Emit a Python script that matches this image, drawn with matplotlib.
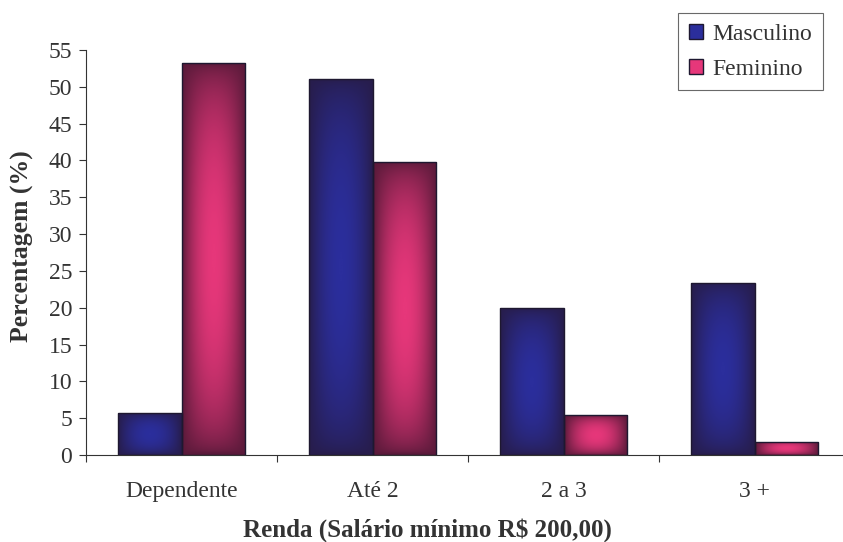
import matplotlib.pyplot as plt
import numpy as np
from matplotlib.colors import LinearSegmentedColormap
from matplotlib.patches import Patch

categorias = ["Dependente", "Até 2", "2 a 3", "3 +"]
masculino = [5.7, 51.1, 19.9, 23.4]
feminino = [53.3, 39.8, 5.4, 1.8]
y_ticks = list(range(0, 60, 5))

plt.rcParams['font.family'] = ['Liberation Serif', 'DejaVu Serif']

# cores: borda escura -> centro claro
cor_m = ("#271d4c", "#2b2e9c")
cor_f = ("#5a1a3a", "#e6377a")


def pinta_gradiente(ax, barra, cores):
    cmap = LinearSegmentedColormap.from_list("g", list(cores))
    x0, w = barra.get_x(), barra.get_width()
    y0, h = barra.get_y(), barra.get_height()
    u = np.linspace(-1, 1, 60)
    v = np.linspace(-1, 1, 120)
    U, V = np.meshgrid(u, v)
    t = (1 - U**2) ** 0.9 * (1 - V**2) ** 0.6
    im = ax.imshow(t, cmap=cmap, vmin=0, vmax=1, aspect='auto',
                   extent=(x0, x0 + w, y0, y0 + h), origin='lower',
                   interpolation='bilinear', zorder=2)
    im.set_clip_path(barra)


fig = plt.figure(figsize=(8.43, 5.42), dpi=100)
ax = fig.add_axes([86 / 843, 1 - 455 / 542, 764 / 843, 405 / 542])

x = np.arange(len(categorias))
larg = 0.335
barras_m = ax.bar(x - larg / 2, masculino, larg, facecolor='none',
                  edgecolor='#1e1830', linewidth=1.0, zorder=3)
barras_f = ax.bar(x + larg / 2, feminino, larg, facecolor='none',
                  edgecolor='#1e1830', linewidth=1.0, zorder=3)
for b in barras_m:
    pinta_gradiente(ax, b, cor_m)
for b in barras_f:
    pinta_gradiente(ax, b, cor_f)

ax.set_xlim(-0.5, len(categorias) - 0.5)
ax.set_ylim(0, 55)
ax.set_yticks(y_ticks)
ax.set_xticks(x)
ax.set_xticklabels(categorias)
ax.set_xticks(np.arange(-0.5, len(categorias)), minor=True)
ax.tick_params(axis='x', which='major', length=0, pad=19, labelsize=17,
               labelcolor='#333333')
ax.tick_params(axis='x', which='minor', length=5, width=0.8, color='#333333')
ax.tick_params(axis='y', length=5, width=0.8, color='#333333', pad=5,
               labelsize=17, labelcolor='#333333')

for s in ['top', 'right']:
    ax.spines[s].set_visible(False)
for s in ['left', 'bottom']:
    ax.spines[s].set_linewidth(0.8)
    ax.spines[s].set_color('#333333')

fig.text(22 / 843, 1 - 246 / 542, "Percentagem (%)", rotation=90,
         ha='center', va='center', fontsize=18.5, fontweight='bold',
         color='#333333')
fig.text(427 / 843, 1 - 530 / 542, "Renda (Salário mínimo R$ 200,00)",
         ha='center', va='center', fontsize=18, fontweight='bold',
         color='#333333')

handles = [Patch(facecolor=cor_m[1], edgecolor='#1e1830', label="Masculino"),
           Patch(facecolor=cor_f[1], edgecolor='#1e1830', label="Feminino")]
leg = fig.legend(handles=handles, loc='upper right',
                 bbox_to_anchor=(823 / 843, 1 - 13 / 542), borderaxespad=0,
                 fontsize=17, frameon=True, fancybox=False,
                 handlelength=0.6, handleheight=0.6, handletextpad=0.4,
                 borderpad=0.45, labelspacing=0.6, labelcolor='#333333')
leg.get_frame().set_edgecolor('#444444')
leg.get_frame().set_linewidth(0.8)

fig.savefig("out.png", dpi=100)
